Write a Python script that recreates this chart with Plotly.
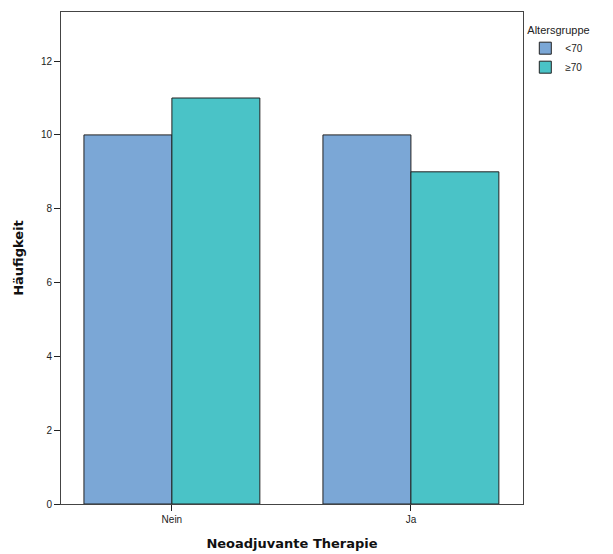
import plotly.graph_objects as go

categories = ["Nein", "Ja"]
lt70 = [10, 10]
ge70 = [11, 9]
series_names = ["<70", "≥70"]
colors = ["#7BA7D6", "#4AC3C7"]

xpos = list(range(len(categories)))

fig = go.Figure()
for name, vals, col in zip(series_names, [lt70, ge70], colors):
    fig.add_trace(go.Bar(x=xpos, y=vals, name=name,
                         marker=dict(color=col, line=dict(color="#222222", width=1))))

fig.update_layout(
    width=605, height=546,
    margin=dict(l=53, r=90, t=4, b=50),
    plot_bgcolor="white", paper_bgcolor="white",
    barmode="group", bargap=0.264, bargroupgap=0,
    font=dict(family="Liberation Sans, Arial", size=11, color="#222222"),
    xaxis=dict(range=[-0.464, 1.469], tickmode="array", tickvals=xpos, ticktext=categories,
               ticks="outside", ticklen=6, tickcolor="#222222", showgrid=False, zeroline=False,
               showline=True, linecolor="#444444", linewidth=1, mirror=True,
               title=dict(text="<b>Neoadjuvante Therapie</b>",
                          font=dict(family="DejaVu Sans", size=13, color="#111111"), standoff=14),
               tickfont=dict(size=10)),
    yaxis=dict(range=[0, 13.33], tickvals=[0, 2, 4, 6, 8, 10, 12],
               ticks="outside", ticklen=6, tickcolor="#222222", showgrid=False, zeroline=False,
               showline=True, linecolor="#444444", linewidth=1, mirror=True,
               title=dict(text="<b>Häufigkeit</b>",
                          font=dict(family="DejaVu Sans", size=13, color="#111111"), standoff=14),
               tickfont=dict(size=10)),
    legend=dict(x=1.005, y=0.985, xanchor="left", yanchor="top",
                title=dict(text="Altersgruppe", font=dict(size=11)),
                font=dict(size=10), itemwidth=30, tracegroupgap=0, bgcolor="rgba(0,0,0,0)"),
)

fig.write_html("out.html")
